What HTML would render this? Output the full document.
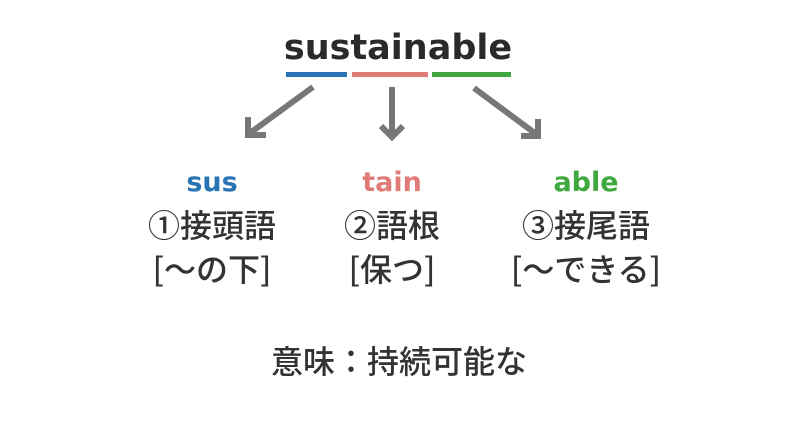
<!DOCTYPE html>
<html><head><meta charset="utf-8"><style>
body{margin:0;width:798px;height:424px;background:#fff;overflow:hidden;position:relative;font-family:"Noto Sans CJK JP",sans-serif;color:#333}
.t{position:absolute;white-space:nowrap;transform:translateX(-50%);line-height:1}
.j{font-size:32px;font-weight:500;font-family:"Noto Sans CJK JP",sans-serif}
.l{font-size:27px;font-weight:bold;font-family:'DejaVu Sans',sans-serif;top:169px}
</style></head><body>
<div class="t" style="left:398px;top:31px;font-size:35px;font-family:'DejaVu Sans',sans-serif;font-weight:bold;color:#2a2a2a">sustainable</div>
<svg width="798" height="424" style="position:absolute;left:0;top:0">
<rect x="286" y="72" width="61" height="5" fill="#2a73b5"/>
<rect x="352" y="72" width="76" height="5" fill="#e07b78"/>
<rect x="432" y="72" width="79" height="5" fill="#3fa83f"/>
<g stroke="#777" stroke-width="6" fill="none" stroke-linecap="butt">
<line x1="313" y1="87" x2="250" y2="133"/>
<polyline points="248,117 248,135 266,135"/>
<line x1="392" y1="87" x2="392" y2="136"/>
<polyline points="381,126 392,137 403,126"/>
<line x1="474" y1="88" x2="536" y2="134"/>
<polyline points="521,136 538,136 538,119"/>
</g>
</svg>
<div class="t l" style="left:212px;color:#2a73b5">sus</div>
<div class="t l" style="left:392px;color:#e07b78">tain</div>
<div class="t l" style="left:586px;color:#3fa83f">able</div>
<div class="t j" style="left:212px;top:208px">①接頭語</div>
<div class="t j" style="left:392px;top:208px">②語根</div>
<div class="t j" style="left:586px;top:208px">③接尾語</div>
<div class="t j" style="left:212px;top:252px">[〜の下]</div>
<div class="t j" style="left:392px;top:252px">[保つ]</div>
<div class="t j" style="left:586px;top:252px">[〜できる]</div>
<div class="t j" style="left:399px;top:344px">意味：持続可能な</div>
</body></html>
